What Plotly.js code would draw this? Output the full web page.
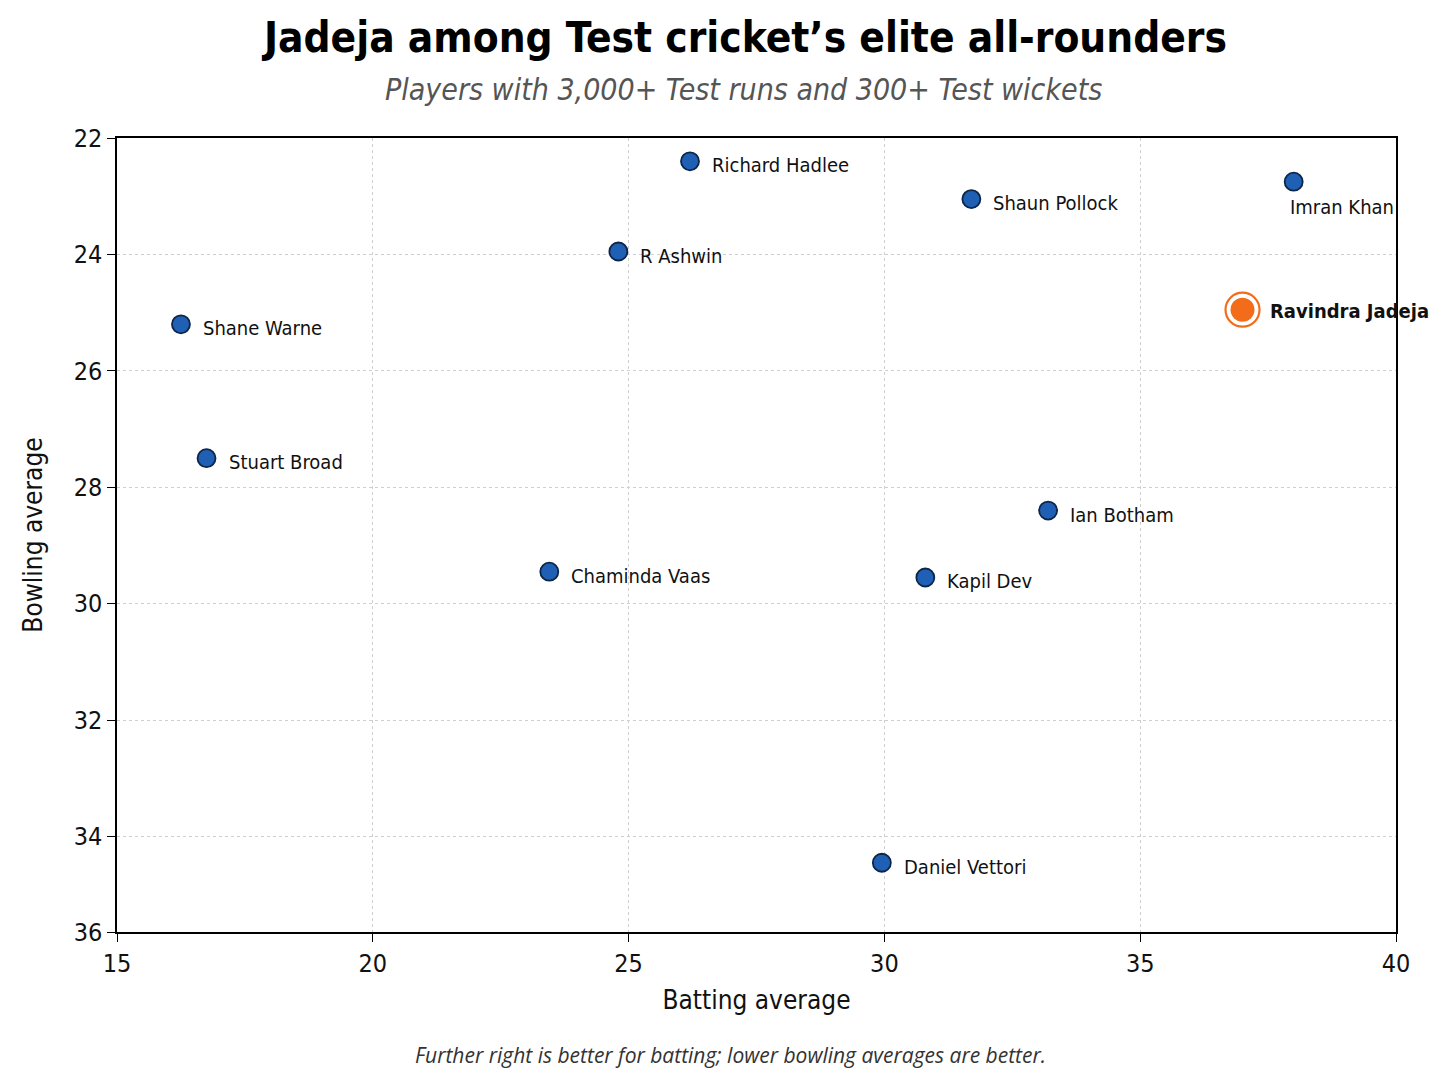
<!DOCTYPE html>
<html>
<head>
<meta charset="utf-8">
<script src="https://cdn.plot.ly/plotly-3.0.1.min.js"></script>
<style>
  html, body { margin: 0; padding: 0; background: #fff; }
  #chart { width: 1448px; height: 1086px; }
</style>
</head>
<body>
<div id="chart"></div>
<script>
const players = ['Richard Hadlee', 'Shaun Pollock', 'Imran Khan', 'R Ashwin', 'Shane Warne',
                 'Stuart Broad', 'Ian Botham', 'Chaminda Vaas', 'Kapil Dev', 'Daniel Vettori'];
const battingAvg = [26.2, 31.7, 38.0, 24.8, 16.25, 16.75, 33.2, 23.45, 30.8, 29.95];
const bowlingAvg = [22.4, 23.05, 22.75, 23.95, 25.2, 27.5, 28.4, 29.45, 29.55, 34.45];

const focusName = 'Ravindra Jadeja';
const focusBatting = [37.0];
const focusBowling = [24.95];

const xTicks = [15, 20, 25, 30, 35, 40];
const yTickLabels = ['22', '24', '26', '28', '30', '32', '34', '36'];
// the source squeezes its last band, so "36" sits on the bottom edge
const yTickVals = [22, 24, 26, 28, 30, 32, 34, 35.64];

const narrow = '"DejaVu Sans Condensed", "Liberation Sans Narrow", Arial, sans-serif';

const others = {
    x: battingAvg,
    y: bowlingAvg,
    mode: 'markers',
    type: 'scatter',
    marker: {size: 18, color: '#1f5fb4', line: {color: '#0d2547', width: 1.8}},
    hoverinfo: 'text',
    text: players
};
const jadejaRing = {
    x: focusBatting,
    y: focusBowling,
    mode: 'markers',
    type: 'scatter',
    marker: {size: 34, color: '#ffffff', line: {color: '#f26c1a', width: 2.2}},
    hoverinfo: 'skip'
};
const jadejaDot = {
    x: focusBatting,
    y: focusBowling,
    mode: 'markers',
    type: 'scatter',
    marker: {size: 24, color: '#f26c1a', line: {width: 0}},
    hoverinfo: 'text',
    text: [focusName]
};

// labels sit to the right of each dot, Imran Khan goes underneath (edge of plot)
const annotations = players.map((name, i) => {
    const under = name === 'Imran Khan';
    return {
        x: battingAvg[i], y: bowlingAvg[i], text: name,
        showarrow: false, xanchor: 'left', yanchor: 'middle',
        xshift: under ? -6 : 20, yshift: under ? -25 : -4,
        font: {family: narrow, size: 20, color: '#111'}
    };
});
annotations.push({
    x: focusBatting[0], y: focusBowling[0], text: '<b>' + focusName + '</b>',
    showarrow: false, xanchor: 'left', yanchor: 'middle', xshift: 25, yshift: -1,
    font: {family: narrow, size: 20, color: '#111'}
});
annotations.push({
    text: '<b>Jadeja among Test cricket\u2019s elite all-rounders</b>',
    xref: 'paper', yref: 'paper', x: 0.49, y: 1.126, xanchor: 'center', yanchor: 'middle',
    showarrow: false, font: {family: narrow, size: 42, color: '#000'}
});
annotations.push({
    text: '<i>Players with 3,000+ Test runs and 300+ Test wickets</i>',
    xref: 'paper', yref: 'paper', x: 0.49, y: 1.061, xanchor: 'center', yanchor: 'middle',
    showarrow: false, font: {family: narrow, size: 30, color: '#555'}
});
annotations.push({
    text: '<i>Further right is better for batting; lower bowling averages are better.</i>',
    xref: 'paper', yref: 'paper', x: 0.48, y: -0.155, xanchor: 'center', yanchor: 'middle',
    showarrow: false, font: {family: '"Open Sans", "Noto Sans", sans-serif', size: 21, color: '#333'}
});

const layout = {
    width: 1448,
    height: 1086,
    paper_bgcolor: '#ffffff',
    plot_bgcolor: '#ffffff',
    showlegend: false,
    margin: {l: 117, r: 52, t: 138, b: 154},
    font: {family: narrow, color: '#111'},
    xaxis: {
        range: [15, 40],
        tickvals: xTicks,
        ticks: 'outside', ticklen: 8, tickcolor: '#000',
        showline: true, linecolor: '#000', linewidth: 1.5, mirror: true,
        showgrid: true, gridcolor: '#cfcfcf', griddash: 'dot', gridwidth: 1,
        zeroline: false,
        tickfont: {family: narrow, size: 25, color: '#111'},
        title: {text: 'Batting average', font: {family: narrow, size: 26, color: '#111'}, standoff: 14}
    },
    yaxis: {
        range: [35.64, 22],
        tickvals: yTickVals,
        ticktext: yTickLabels,
        ticks: 'outside', ticklen: 8, tickcolor: '#000',
        showline: true, linecolor: '#000', linewidth: 1.5, mirror: true,
        showgrid: true, gridcolor: '#cfcfcf', griddash: 'dot', gridwidth: 1,
        zeroline: false,
        tickfont: {family: narrow, size: 25, color: '#111'},
        title: {text: 'Bowling average', font: {family: narrow, size: 26, color: '#111'}, standoff: 24}
    },
    annotations: annotations
};

Plotly.newPlot('chart', [others, jadejaRing, jadejaDot], layout, {displayModeBar: false});
</script>
</body>
</html>
